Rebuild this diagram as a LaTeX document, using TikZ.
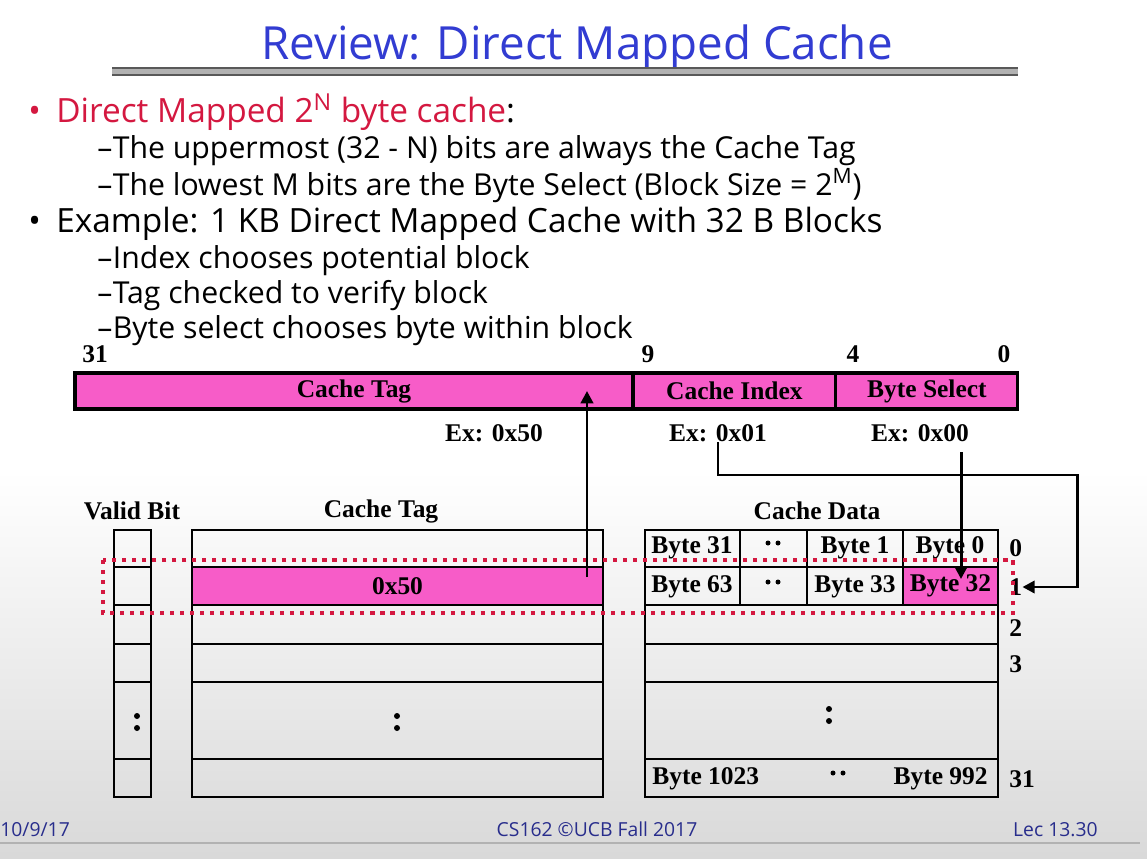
\documentclass[tikz,border=0pt]{standalone}
\usepackage{fontspec}
\setmainfont{Liberation Serif}
\newfontfamily\slidefont{Open Sans}
\usepackage{xcolor}
\usepackage{tikz}
\usetikzlibrary{positioning, arrows.meta}

\definecolor{tagpink}{RGB}{247,92,200}
\definecolor{slidered}{RGB}{212,24,64}
\definecolor{titleblue}{RGB}{50,60,210}
\definecolor{footblue}{RGB}{40,45,140}

\newcommand{\slidebul}{\makebox[0.56cm][l]{\textbullet}}
\newcommand{\slidedash}{\makebox[0.31cm][l]{–}}

\begin{document}
\begin{tikzpicture}[
        x=0.02cm, y=-0.02cm,
        node distance=0pt,
        lbl/.style={font=\fontsize{14.5}{16}\selectfont\bfseries, inner sep=0pt},
        field/.style={
            rectangle, draw=black, fill=tagpink, line width=1.8pt,
            minimum height=0.72cm, inner sep=0pt, outer sep=0pt,
            font=\fontsize{14.5}{16}\selectfont\bfseries
        },
        cell/.style={
            rectangle, fill=tagpink, minimum height=0.76cm,
            inner sep=0pt, outer sep=0pt,
            font=\fontsize{14.5}{16}\selectfont\bfseries
        },
        grid/.style={line width=1.4pt},
        arrow/.style={line width=1.7pt, -{Triangle[length=7pt, width=7pt]}},
        title/.style={anchor=base, inner sep=0pt, text=titleblue,
            font=\slidefont\fontsize{26}{29}\selectfont},
        item/.style={anchor=base west, inner sep=0pt,
            font=\slidefont\fontsize{19}{22}\selectfont},
        subitem/.style={anchor=base west, inner sep=0pt,
            font=\slidefont\fontsize{17.2}{20}\selectfont},
        foot/.style={inner sep=0pt, text=footblue,
            font=\slidefont\fontsize{11}{13}\selectfont}
    ]
        \useasboundingbox (0,0) rectangle (1147,859);
        \fill[white] (0,0) rectangle (1147,859);
        \shade[top color=white, bottom color=black!15] (0,470) rectangle (1147,859);

        % title and rule
        \node[title] (title) at (577,59) {Review: Direct Mapped Cache};
        \fill[black!30] (112,67) rectangle (1018,76);
        \draw[black!65, line width=0.8pt] (112,68) -- (1018,68) (112,75) -- (1018,75);

        % bullet text
        \node[item, text=slidered] (pta) at (28,122)
            {\slidebul Direct Mapped 2\textsuperscript{N} byte cache\textcolor{black}{:}};
        \node[subitem] (ptaa) at (97,158) {\slidedash The uppermost (32 - N) bits are always the Cache Tag};
        \node[subitem] (ptab) at (97,195) {\slidedash The lowest M bits are the Byte Select (Block Size = 2\textsuperscript{M})};
        \node[item] (ptb) at (28,232) {\slidebul Example: 1 KB Direct Mapped Cache with 32 B Blocks};
        \node[subitem] (ptba) at (97,268) {\slidedash Index chooses potential block};
        \node[subitem] (ptbb) at (97,303) {\slidedash Tag checked to verify block};
        \node[subitem] (ptbc) at (97,338) {\slidedash Byte select chooses byte within block};

        % address fields
        \node[field, minimum width=11.16cm] (tagf) at (354,391) {Cache Tag};
        \node[field, minimum width=4.06cm, right=of tagf] (idxf) {Cache Index};
        \node[field, minimum width=3.64cm, right=of idxf] (bytef) {Byte Select};
        \node[lbl] (bit31) at (95,354) {31};
        \node[lbl] (bit9) at (648,354) {9};
        \node[lbl] (bit4) at (853,354) {4};
        \node[lbl] (bit0) at (1004,354) {0};
        \node[lbl] (extag) at (494,433) {Ex: 0x50};
        \node[lbl] (exidx) at (718,433) {Ex: 0x01};
        \node[lbl] (exbyte) at (920,433) {Ex: 0x00};

        % cache arrays
        \node[lbl] (validhd) at (132,511) {Valid Bit};
        \node[lbl] (taghd) at (381,511) {Cache Tag};
        \node[lbl] (datahd) at (817,511) {Cache Data};
        \node[cell, minimum width=8.22cm] (tagrow) at (397.5,586) {0x50};
        \node[cell, minimum width=1.9cm] (byte32) at (950.5,586) {Byte 32};
        \foreach \l/\r in {114/151, 192/603, 645/998} {
            \draw[grid] (\l,530) rectangle (\r,797);
            \foreach \y in {567,605,644,682,759}
                \draw[grid] (\l,\y) -- (\r,\y);
        }
        \foreach \x in {740,807,903}
            \draw[grid] (\x,530) -- (\x,605);

        \node[lbl] (b31) at (692,548) {Byte 31};
        \node[lbl] (b1) at (855,548) {Byte 1};
        \node[lbl] (b0) at (950,548) {Byte 0};
        \node[lbl] (b63) at (692,587) {Byte 63};
        \node[lbl] (b33) at (855,587) {Byte 33};
        \node[lbl, anchor=west] (b1023) at (652,779) {Byte 1023};
        \node[lbl, anchor=east] (b992) at (988,779) {Byte 992};
        \node[lbl, anchor=west] (row0) at (1009,548) {0};
        \node[lbl, anchor=west] (row1) at (1009,587) {1};
        \node[lbl, anchor=west] (row2) at (1009,628) {2};
        \node[lbl, anchor=west] (row3) at (1009,664) {3};
        \node[lbl, anchor=west] (row31) at (1009,779) {31};

        % dots
        \foreach \x/\y in {773/543, 773/582, 838/773}
            \fill (\x-5,\y) circle (0.05cm) (\x+5,\y) circle (0.05cm);
        \foreach \x/\y in {137/722, 397/722, 829/715}
            \fill (\x,\y-6) circle (0.06cm) (\x,\y+6) circle (0.06cm);

        % selected line
        \draw[slidered, line width=2.3pt, dash pattern=on 2.3pt off 3.4pt]
            (103,560) rectangle (1013,613);

        % arrows
        \coordinate (tagsrc) at (587,577);
        \coordinate (idxturn) at (1077,475);
        \coordinate (bytesrc) at (961,452);
        \coordinate (bytetip) at (961,579);
        \draw[arrow] (tagsrc) -- (tagsrc |- tagf.center);
        \draw[arrow] (exidx.south) |- (idxturn) |- (row1.east);
        \draw[arrow] (bytesrc) -- (bytetip);

        % footer
        \draw[black!30, line width=1.2pt] (0,843) -- (1140,843);
        \node[foot, anchor=base west] (date) at (0,836) {10/9/17};
        \node[foot, anchor=base] (course) at (597,836) {CS162 ©UCB Fall 2017};
        \node[foot, anchor=base east] (lec) at (1098,836) {Lec 13.30};
    \end{tikzpicture}
\end{document}
